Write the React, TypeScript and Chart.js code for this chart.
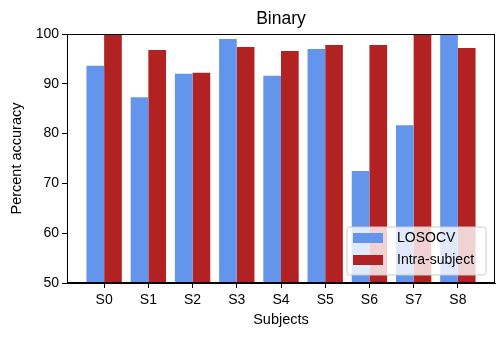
import React, { useEffect, useRef } from "react";
import { Chart, registerables } from "chart.js";

Chart.register(...registerables);

const categories = ["S0", "S1", "S2", "S3", "S4", "S5", "S6", "S7", "S8"];
const losocv = [93.6, 87.3, 92.0, 99.0, 91.6, 97.0, 72.5, 81.7, 100];
const intraSubject = [100, 96.8, 92.2, 97.4, 96.6, 97.8, 97.8, 100, 97.2];
const seriesNames = ["LOSOCV", "Intra-subject"];
const seriesColors = ["#6495ED", "#B22222"];
const yTicks = [50, 60, 70, 80, 90, 100];
const titleText = "Binary";
const xTitle = "Subjects";
const yTitle = "Percent accuracy";

const FONT = "'Liberation Sans', Arial, sans-serif";

const decorPlugin = {
  id: "decor",
  afterDraw(chart: any) {
    const { ctx, chartArea } = chart;
    const { left, right, top, bottom } = chartArea;
    ctx.save();
    // frame
    ctx.strokeStyle = "#000";
    ctx.lineWidth = 1;
    ctx.strokeRect(Math.round(left) + 0.5, Math.round(top) + 0.5, Math.round(right - left) - 1, Math.round(bottom - top) - 1);
    // title
    ctx.fillStyle = "#000";
    ctx.font = `17.5px ${FONT}`;
    ctx.textAlign = "center";
    ctx.textBaseline = "middle";
    ctx.fillText(titleText, (left + right) / 2, 19);
    // legend
    const lx = right - 148, ly = bottom - 56, lw = 139, lh = 48;
    ctx.fillStyle = "rgba(255,255,255,0.8)";
    ctx.strokeStyle = "#cccccc";
    ctx.lineWidth = 1;
    const r = 3;
    ctx.beginPath();
    ctx.moveTo(lx + r, ly);
    ctx.lineTo(lx + lw - r, ly);
    ctx.quadraticCurveTo(lx + lw, ly, lx + lw, ly + r);
    ctx.lineTo(lx + lw, ly + lh - r);
    ctx.quadraticCurveTo(lx + lw, ly + lh, lx + lw - r, ly + lh);
    ctx.lineTo(lx + r, ly + lh);
    ctx.quadraticCurveTo(lx, ly + lh, lx, ly + lh - r);
    ctx.lineTo(lx, ly + r);
    ctx.quadraticCurveTo(lx, ly, lx + r, ly);
    ctx.closePath();
    ctx.fill();
    ctx.stroke();
    ctx.font = `14px ${FONT}`;
    ctx.textAlign = "left";
    seriesNames.forEach((name, i) => {
      const ry = ly + 6 + i * 22;
      ctx.fillStyle = seriesColors[i];
      ctx.fillRect(lx + 6, ry, 30, 10);
      ctx.fillStyle = "#000";
      ctx.fillText(name, lx + 50, ry + 5.5);
    });
    ctx.restore();
  },
};

export default function App() {
  const ref = useRef<HTMLCanvasElement>(null);
  useEffect(() => {
    if (!ref.current) return;
    const chart = new Chart(ref.current, {
      type: "bar",
      data: {
        datasets: [
          {
            label: seriesNames[0],
            data: losocv.map((v, i) => ({ x: i, y: v })),
            backgroundColor: seriesColors[0],
            categoryPercentage: 0.8,
            barPercentage: 1.0,
          },
          {
            label: seriesNames[1],
            data: intraSubject.map((v, i) => ({ x: i, y: v })),
            backgroundColor: seriesColors[1],
            categoryPercentage: 0.8,
            barPercentage: 1.0,
          },
        ],
      },
      options: {
        animation: false,
        responsive: false,
        maintainAspectRatio: false,
        layout: { padding: { top: 34, right: 9, left: 0, bottom: 10 } },
        plugins: { legend: { display: false }, title: { display: false }, tooltip: { enabled: false } },
        scales: {
          x: {
            type: "linear",
            offset: false,
            min: -0.84,
            max: categories.length - 1 + 0.84,
            afterBuildTicks: (axis: any) => {
              axis.ticks = categories.map((_, i) => ({ value: i }));
            },
            afterFit: (scale: any) => {
              scale.height = 46;
            },
            grid: { drawOnChartArea: false, drawTicks: true, tickLength: 5, color: "#000", offset: false },
            border: { display: true, color: "#000" },
            ticks: {
              color: "#000",
              font: { family: FONT, size: 14 },
              padding: 4,
              maxRotation: 0,
              autoSkip: false,
              callback: (v: any) => categories[v as number] ?? "",
            },
            title: { display: true, text: xTitle, color: "#000", font: { family: FONT, size: 14.5 }, padding: { top: 2, bottom: 0 } },
          },
          y: {
            min: 50,
            max: 100,
            afterBuildTicks: (axis: any) => {
              axis.ticks = yTicks.map((v) => ({ value: v }));
            },
            afterFit: (scale: any) => {
              scale.width = 67;
            },
            grid: { drawOnChartArea: false, drawTicks: true, tickLength: 5, color: "#000" },
            border: { display: true, color: "#000" },
            ticks: { color: "#000", font: { family: FONT, size: 14 }, padding: 3 },
            title: { display: true, text: yTitle, color: "#000", font: { family: FONT, size: 14.5 }, padding: { top: 8, bottom: 0 } },
          },
        },
      },
      plugins: [decorPlugin],
    } as any);
    return () => chart.destroy();
  }, []);
  return (
    <div style={{ position: "absolute", left: 0, top: 0, width: 504, height: 339, background: "#fff" }}>
      <canvas ref={ref} width={504} height={339} style={{ width: 504, height: 339 }} />
    </div>
  );
}
